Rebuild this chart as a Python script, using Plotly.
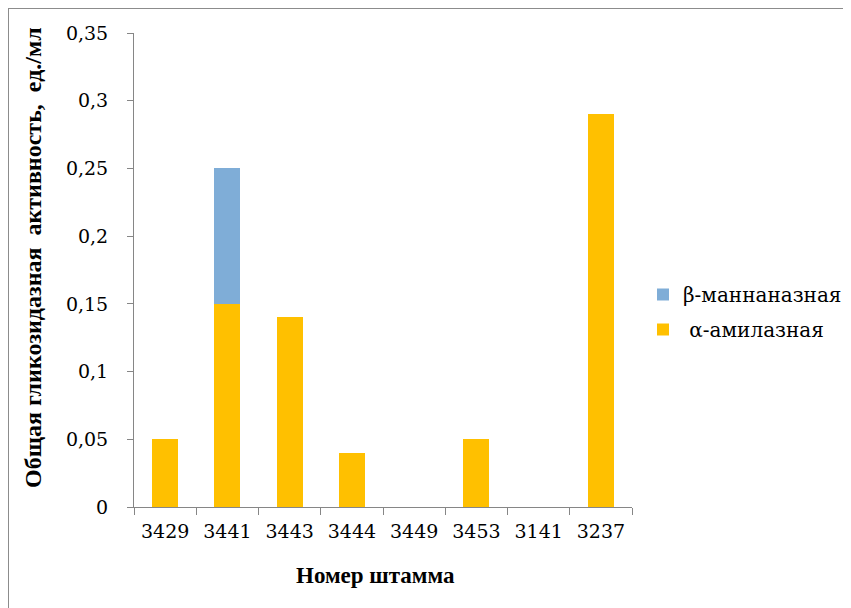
import plotly.graph_objects as go

strains = ["3429", "3441", "3443", "3444", "3449", "3453", "3141", "3237"]
alpha_amylase = [0.05, 0.15, 0.14, 0.04, 0, 0.05, 0, 0.29]
beta_mannanase = [0, 0.10, 0, 0, 0, 0, 0, 0]
y_tickvals = [0, 0.05, 0.1, 0.15, 0.2, 0.25, 0.3, 0.35]
y_ticktext = ["0", "0,05", "0,1", "0,15", "0,2", "0,25", "0,3", "0,35"]

FONT = "Liberation Serif"
TICK_FONT = "DejaVu Serif"
AXIS_COLOR = "#868686"

def f(size, family=FONT):
    return dict(family=family, size=size, color="black")

fig = go.Figure()
fig.add_trace(go.Bar(x=strains, y=alpha_amylase, name="\u00a0α-амилазная",
                     marker=dict(color="#FFC000", line=dict(width=0)),
                     legendgroup="a", legendrank=2))
fig.add_trace(go.Bar(x=strains, y=beta_mannanase, name="β-маннаназная",
                     marker=dict(color="#7FADD7", line=dict(width=0)),
                     legendgroup="b", legendrank=1))

OFF = 8  # page offset of the figure
W, H = 851 - OFF, 608 - OFF
PL, PR, PT, PB = 134, 632, 33, 507
L, T = PL - OFF, PT - OFF
R, B = W - (PR - OFF), H - (PB - OFF)
pw, ph = PR - PL, PB - PT

def px(x):
    return (x - PL) / pw

def py(y):
    return (PB - y) / ph

fig.update_layout(
    width=W, height=H,
    barmode="stack", bargap=0.58,
    paper_bgcolor="white", plot_bgcolor="white",
    margin=dict(l=L, r=R, t=T, b=B, autoexpand=False),
    font=f(20, TICK_FONT),
    showlegend=True,
    legend=dict(x=px(643), y=py(312), xanchor="left", yanchor="middle",
                traceorder="grouped", tracegroupgap=6,
                font=f(20, TICK_FONT), bgcolor="rgba(0,0,0,0)"),
    xaxis=dict(
        type="category", showline=True, linecolor=AXIS_COLOR, linewidth=1,
        ticks="outside", tickson="boundaries", ticklen=7, tickcolor=AXIS_COLOR,
        tickfont=f(19, TICK_FONT), ticklabelstandoff=7,
        showgrid=False, zeroline=False, automargin=False,
    ),
    yaxis=dict(
        range=[0, 0.35], tickvals=y_tickvals, ticktext=y_ticktext,
        showline=True, linecolor=AXIS_COLOR, linewidth=1,
        ticks="outside", ticklen=6, tickcolor=AXIS_COLOR,
        tickfont=f(19, TICK_FONT), ticklabelstandoff=15,
        showgrid=False, zeroline=False, automargin=False,
    ),
    annotations=[
        dict(text="<b>Общая гликозидазная  активность,  ед./мл</b>", textangle=-90,
             xref="paper", yref="paper", x=px(33), y=py(258), xanchor="center", yanchor="middle",
             showarrow=False, font=f(24)),
        dict(text="<b>Номер штамма</b>",
             xref="paper", yref="paper", x=px(375), y=py(575), xanchor="center", yanchor="middle",
             showarrow=False, font=f(23)),
    ],
    shapes=[
        dict(type="line", xref="paper", yref="paper", x0=px(8), x1=px(860), y0=py(8), y1=py(8),
             line=dict(color="#8c8c8c", width=2)),
        dict(type="line", xref="paper", yref="paper", x0=px(8), x1=px(8), y0=py(8), y1=py(620),
             line=dict(color="#8c8c8c", width=2)),
    ],
)

fig.write_html("out.html")
